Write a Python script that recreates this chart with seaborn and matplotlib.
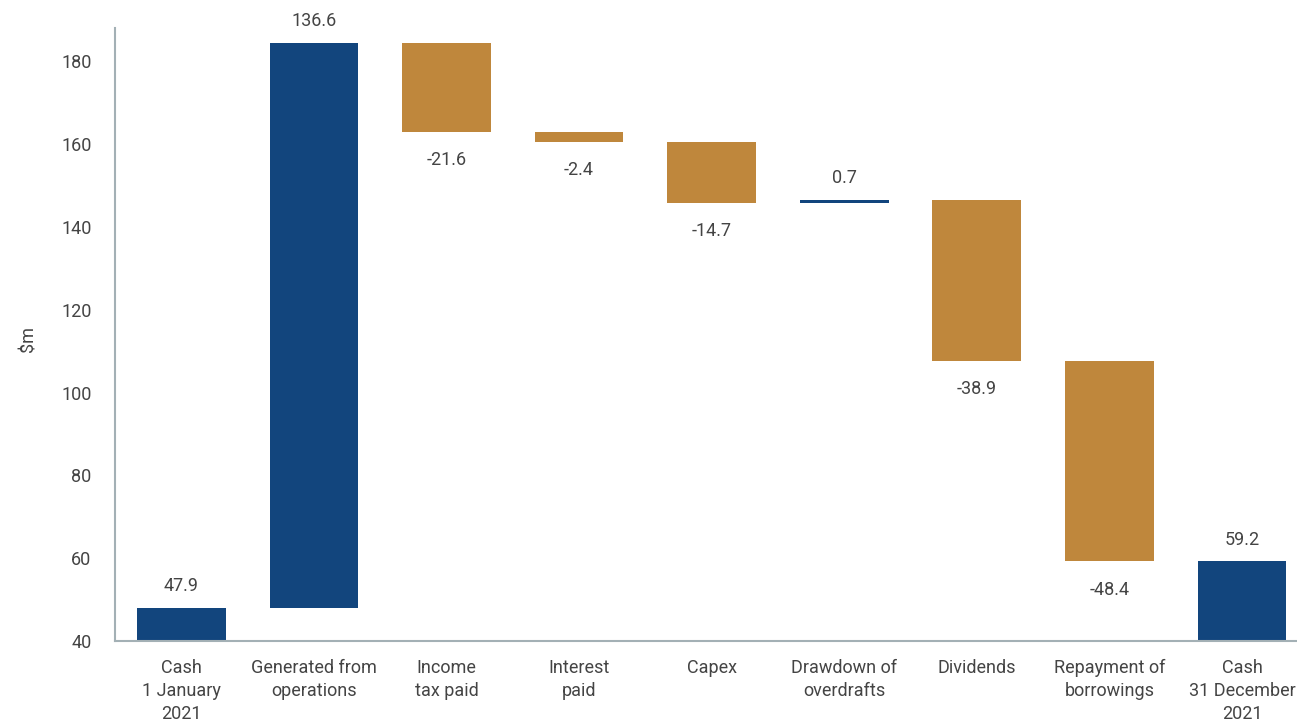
import matplotlib
matplotlib.use('Agg')
import matplotlib.pyplot as plt
import numpy as np
import pandas as pd
import seaborn as sns

# Data
categories = ['Cash\n1 January\n2021', 'Generated from\noperations', 'Income\ntax paid',
              'Interest\npaid', 'Capex', 'Drawdown of\noverdrafts', 'Dividends',
              'Repayment of\nborrowings', 'Cash\n31 December\n2021']
changes = [47.9, 136.6, -21.6, -2.4, -14.7, 0.7, -38.9, -48.4, 59.2]
is_total = [True, False, False, False, False, False, False, False, True]
labels = ['47.9', '136.6', '-21.6', '-2.4', '-14.7', '0.7', '-38.9', '-48.4', '59.2']

blue = '#12457D'
gold = '#BF873C'
text_color = '#444444'
axis_floor = 40

# Build waterfall table
running = 0
rows = []
for cat, val, tot in zip(categories, changes, is_total):
    if tot:
        bottom, top = axis_floor, val
        running = val
    else:
        start = running
        running = running + val
        bottom, top = min(start, running), max(start, running)
    rows.append({'category': cat, 'bottom': bottom, 'top': top, 'value': val,
                 'color': blue if (tot or val > 0) else gold})
df = pd.DataFrame(rows)

sns.set_theme(style='white')
plt.rcParams['font.family'] = ['Roboto', 'DejaVu Sans']

fig = plt.figure(figsize=(12.97, 7.21), dpi=100)
ax = fig.add_axes([0.0887, 0.111, 0.9113, 0.85])

x = np.arange(len(df))
ax.bar(x, df['top'] - df['bottom'], bottom=df['bottom'], width=0.67,
       color=df['color'], linewidth=0)

# Value labels
for i, r in df.iterrows():
    if r['value'] >= 0:
        ax.text(i, r['top'] + 3.1, labels[i], ha='center', va='bottom',
                fontsize=13, color=text_color)
    else:
        ax.text(i, r['bottom'] - 4.6, labels[i], ha='center', va='top',
                fontsize=13, color=text_color)

ax.set_xlim(-0.5, 8.415)
ax.set_ylim(40, 188)
ax.set_yticks(range(40, 181, 20))
ax.set_xticks(x)
ax.set_xticklabels(categories, fontsize=13, color=text_color, linespacing=1.35)
ax.tick_params(axis='y', labelsize=13, labelcolor=text_color, length=0, pad=17)
ax.tick_params(axis='x', length=0, pad=13)
ax.set_ylabel('$m', fontsize=13, color=text_color)
ax.yaxis.set_label_coords(-0.066, 0.493)

for s in ['top', 'right']:
    ax.spines[s].set_visible(False)
for s in ['left', 'bottom']:
    ax.spines[s].set_color('#A3B0B5')
    ax.spines[s].set_linewidth(1.5)

fig.savefig('out.png', dpi=100)
